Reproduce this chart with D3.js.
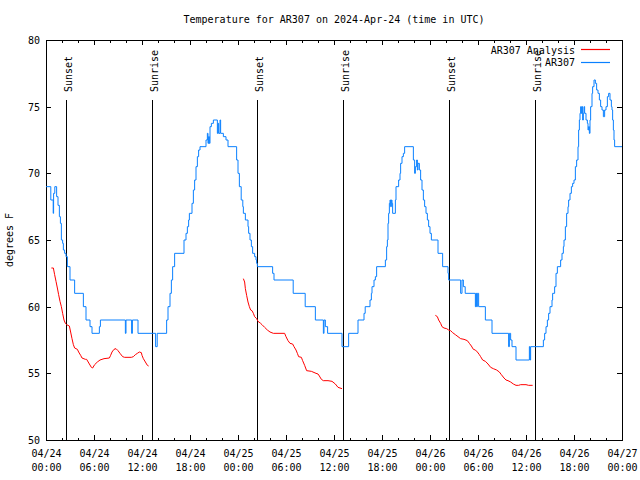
<!DOCTYPE html>
<html><head><meta charset="utf-8">
<script src="https://cdn.jsdelivr.net/npm/d3@7"></script>
<style>
body{margin:0;background:#fff;}
svg{display:block;}
text{font-family:"DejaVu Sans Mono",monospace;font-size:10px;fill:#000;}
</style></head>
<body><svg id="c" width="640" height="480"></svg>
<script>
const titleText = "Temperature for AR307 on 2024-Apr-24 (time in UTC)";
const yLabel = "degrees F";
const seriesNames = ["AR307 Analysis", "AR307"];
const seriesColors = ["#ff0000", "#0a80ff"];
const yTicks = [50, 55, 60, 65, 70, 75, 80];
const startUTC = Date.UTC(2024, 3, 24, 0, 0);
const endUTC = Date.UTC(2024, 3, 27, 0, 0);
// event lines (hours after 04/24 00:00 UTC)
const eventHours = [2.53, 13.28, 26.42, 37.17, 50.42, 61.17];
const eventLabels = ["Sunset", "Sunrise", "Sunset", "Sunrise", "Sunset", "Sunrise"];
// observed AR307 [hour, degF]
const ar307 = [[0,69],[0.6,68],[0.9,67],[0.95,68.5],[1.1,69],[1.33,68.25],[1.5,67.6],[1.67,66.75],[1.8,66.25],[1.92,65],[2.08,64.75],[2.17,64.25],[2.33,64],[2.5,63.75],[2.67,63],[3.0,62],[3.58,61],[4.67,60],[5.0,59],[5.5,58.5],[5.75,58],[6.67,58.5],[6.8,59],[9.92,58],[10.0,59],[10.7,58],[10.8,59],[11.5,58],[13.7,57],[13.9,58],[15.08,59],[15.25,60],[15.5,61],[15.67,62],[15.83,63],[16.08,64],[17.25,65],[17.5,65.5],[17.67,66],[17.83,66.5],[17.92,67],[18.25,67.75],[18.42,68.75],[18.58,69.5],[18.75,70.5],[18.92,71.25],[19.08,71.75],[19.25,72],[20.0,72.5],[20.17,73],[20.25,72.25],[20.33,72.75],[20.42,72.25],[20.5,73.5],[20.67,73.75],[20.92,74],[21.42,73],[21.5,73.75],[21.58,73],[21.75,74],[21.83,73],[22.17,72.75],[22.5,72.5],[22.75,72],[23.83,71],[24.0,70],[24.17,69],[24.4,68],[24.6,67.5],[24.67,67],[24.92,66.5],[25.25,66],[25.33,65.5],[25.5,65],[25.67,64.5],[25.83,64],[26.08,63.75],[26.25,63.5],[26.33,63.25],[26.42,63],[28.33,62.5],[28.5,62],[30.9,61],[32.4,60],[33.67,59],[34.67,58],[34.75,59],[34.92,58.5],[35.2,58],[37.0,57],[37.83,58],[39.0,59],[39.75,59.5],[39.9,60],[40.5,60.5],[40.67,61],[40.75,61.5],[41.0,62],[41.17,62.25],[41.33,63],[42.42,63.5],[42.58,64.5],[42.67,65],[42.75,66.25],[42.83,67],[42.92,67.75],[43.0,68],[43.08,67.5],[43.17,68],[43.25,67.75],[43.33,67],[43.67,68],[43.75,69],[44.08,69.5],[44.25,70],[44.33,70.75],[44.5,71.25],[44.67,71.5],[44.83,72],[45.92,71],[46.08,70],[46.17,70.5],[46.33,71],[46.42,70.25],[46.5,70.75],[46.67,70.25],[46.83,69.5],[47.0,68.75],[47.17,68],[47.33,67.5],[47.5,67],[47.67,66.5],[47.83,66],[48.0,65.5],[48.17,65],[49.0,64],[49.58,63],[50.25,62.5],[50.33,62],[51.83,61],[52.0,62],[52.17,61.5],[52.4,61],[53.67,60],[53.75,61],[53.83,60],[53.92,61],[54.08,60],[54.92,59],[55.75,58],[57.83,57],[57.92,58],[58.08,57.5],[58.25,57],[58.75,56],[60.42,57],[60.5,56],[60.58,57],[62.17,57.5],[62.33,58],[62.5,58.5],[62.67,59],[62.83,59.5],[63.0,60],[63.25,60.5],[63.33,61],[63.58,61.5],[63.75,62.5],[63.92,63],[64.33,63.5],[64.5,64],[64.67,64.5],[64.75,65],[64.92,66],[65.08,67],[65.25,67.5],[65.33,68],[65.5,68.5],[65.67,69],[65.83,69.25],[66.0,69.5],[66.17,70.5],[66.33,71],[66.5,72],[66.58,73.25],[66.67,74],[66.75,74.5],[66.83,75],[66.92,74.5],[67.0,75],[67.08,74],[67.17,74.5],[67.25,75],[67.33,74.5],[67.5,74],[67.67,73.75],[67.75,73.25],[67.83,73.5],[67.92,73],[68.0,74],[68.08,75],[68.25,76],[68.33,76.5],[68.5,77],[68.67,76.75],[68.83,76.25],[69.0,76],[69.17,75.5],[69.33,75],[69.5,74.75],[69.67,74.25],[69.83,74.75],[70.0,75],[70.17,75.75],[70.33,76],[70.5,75.5],[70.67,75],[70.75,74.75],[70.83,74],[70.92,73.25],[71.0,72.5],[71.08,72],[72,72]];
// analysis segments [hour, degF]
const analysis1 = [[0.67,62.9],[0.92,62.9],[1.08,62.4],[1.25,61.9],[1.42,61.4],[1.58,60.9],[1.75,60.4],[1.92,60],[2.08,59.5],[2.25,59],[2.42,58.75],[2.58,58.65],[2.92,58.55],[3.08,58.1],[3.25,57.6],[3.42,57.15],[3.58,56.9],[3.92,56.8],[4.08,56.6],[4.33,56.35],[4.5,56.15],[4.92,56.05],[5.08,56.05],[5.42,55.7],[5.67,55.45],[5.83,55.4],[6.08,55.65],[6.42,55.85],[6.75,56],[7.0,56.05],[7.25,56.1],[7.92,56.15],[8.08,56.35],[8.25,56.6],[8.5,56.8],[8.75,56.85],[9.0,56.7],[9.25,56.5],[9.58,56.25],[9.83,56.2],[10.67,56.2],[10.92,56.25],[11.17,56.4],[11.42,56.5],[11.67,56.6],[11.92,56.55],[12.0,56.35],[12.17,56.1],[12.42,55.85],[12.67,55.6],[12.83,55.55]];
const analysis2 = [[24.67,62.1],[24.83,61.85],[24.92,61.35],[25.08,60.85],[25.25,60.35],[25.42,60],[25.58,59.75],[25.75,59.7],[25.92,59.5],[26.08,59.25],[26.33,59.1],[26.5,58.9],[26.83,58.75],[27.0,58.65],[27.33,58.45],[27.67,58.25],[28.0,58.1],[28.42,58],[29.83,58],[30.0,57.75],[30.25,57.45],[30.5,57.25],[30.83,57.2],[31.0,57.0],[31.25,56.75],[31.42,56.5],[31.58,56.25],[31.92,56.2],[32.08,55.95],[32.33,55.6],[32.58,55.2],[33.17,55.15],[33.75,55],[34.0,54.95],[34.17,54.8],[34.42,54.55],[34.67,54.45],[35.25,54.45],[35.75,54.4],[36.17,54.2],[36.5,53.95],[37.0,53.85]];
const analysis3 = [[48.67,59.35],[48.92,59.25],[49.08,59],[49.33,58.75],[49.5,58.5],[49.75,58.4],[50.08,58.35],[50.33,58.25],[50.58,58.2],[50.83,58.05],[51.17,57.9],[51.5,57.75],[51.83,57.6],[52.25,57.55],[52.67,57.45],[52.92,57.25],[53.17,57.05],[53.42,56.8],[53.67,56.75],[53.92,56.6],[54.17,56.4],[54.33,56.25],[54.58,56.0],[54.92,55.9],[55.25,55.7],[55.58,55.45],[55.92,55.35],[56.33,55.25],[56.67,55.1],[56.92,54.9],[57.25,54.65],[57.5,54.5],[57.75,54.45],[58.08,54.35],[58.42,54.2],[58.75,54.1],[59.08,54.1],[59.33,54.15],[60.0,54.15],[60.33,54.1],[60.83,54.1]];

const L = 46, R = 622, T = 40, B = 440;
const svg = d3.select("#c");
const hr = h => new Date(startUTC + h * 3600e3);
const x = d3.scaleUtc().domain([new Date(startUTC), new Date(endUTC)]).range([L, R]);
const y = d3.scaleLinear().domain([50, 80]).range([B, T]);

const major = d3.utcHour.every(6).range(new Date(startUTC), new Date(endUTC + 1));
const minor = d3.utcHour.every(2).range(new Date(startUTC), new Date(endUTC + 1));

function styleAxis(g) {
  g.select(".domain").remove();
  g.selectAll("line").attr("stroke", "#000").attr("shape-rendering", "crispEdges");
}
// minor ticks
svg.append("g").attr("transform", `translate(0,${B})`)
  .call(d3.axisBottom(x).tickValues(minor).tickSize(-2.5).tickFormat("")).call(styleAxis);
svg.append("g").attr("transform", `translate(0,${T})`)
  .call(d3.axisTop(x).tickValues(minor).tickSize(-2.5).tickFormat("")).call(styleAxis);
// major x ticks
const fmtD = d3.utcFormat("%m/%d"), fmtT = d3.utcFormat("%H:%M");
const xb = svg.append("g").attr("transform", `translate(0,${B})`)
  .call(d3.axisBottom(x).tickValues(major).tickSize(-5).tickPadding(0).tickFormat("")).call(styleAxis);
xb.selectAll(".tick").each(function(d) {
  const t = d3.select(this).append("text").attr("text-anchor", "middle").attr("fill", "#000");
  t.append("tspan").attr("x", 0).attr("y", 17).text(fmtD(d));
  t.append("tspan").attr("x", 0).attr("y", 31).text(fmtT(d));
});
svg.append("g").attr("transform", `translate(0,${T})`)
  .call(d3.axisTop(x).tickValues(major).tickSize(-5).tickFormat("")).call(styleAxis);
// y ticks
const yl = svg.append("g").attr("transform", `translate(${L},0)`)
  .call(d3.axisLeft(y).tickValues(yTicks).tickSize(-5).tickPadding(6).tickFormat(d3.format("d"))).call(styleAxis);
yl.selectAll("text").attr("fill", "#000").attr("dy", "0.35em").style("font-family", "DejaVu Sans Mono").style("font-size", "10px");
svg.append("g").attr("transform", `translate(${R},0)`)
  .call(d3.axisRight(y).tickValues(yTicks).tickSize(-5).tickFormat("")).call(styleAxis);

// border
svg.append("rect").attr("x", L + 0.5).attr("y", T + 0.5).attr("width", R - L).attr("height", B - T)
  .attr("fill", "none").attr("stroke", "#000").attr("shape-rendering", "crispEdges");

// event lines
eventHours.forEach((h, i) => {
  const xp = Math.round(x(hr(h))) + 0.5;
  svg.append("line").attr("x1", xp).attr("x2", xp).attr("y1", 100).attr("y2", B)
    .attr("stroke", "#000").attr("shape-rendering", "crispEdges");
  svg.append("text").attr("transform", `translate(${xp + 5},92) rotate(-90)`)
    .attr("text-anchor", "start").text(eventLabels[i]);
});

// analysis (red)
const lineLin = d3.line().x(d => x(hr(d[0]))).y(d => y(d[1]));
[analysis1, analysis2, analysis3].forEach(seg => {
  svg.append("path").attr("d", lineLin(seg)).attr("fill", "none")
    .attr("stroke", seriesColors[0]).attr("stroke-width", 1);
});
// observed (blue)
const lineStep = d3.line().x(d => x(hr(d[0]))).y(d => y(d[1])).curve(d3.curveStepAfter);
svg.append("path").attr("d", lineStep(ar307)).attr("fill", "none")
  .attr("stroke", seriesColors[1]).attr("stroke-width", 1);

// title & labels
svg.append("text").attr("x", 334).attr("y", 23).attr("text-anchor", "middle").text(titleText);
svg.append("text").attr("transform", "translate(13,240) rotate(-90)").attr("text-anchor", "middle").text(yLabel);

// legend
seriesNames.forEach((n, i) => {
  const yy = 50 + i * 12.5;
  svg.append("text").attr("x", 575).attr("y", yy + 3.5).attr("text-anchor", "end").text(n);
  svg.append("line").attr("x1", 581).attr("x2", 610).attr("y1", Math.round(yy) - 0.5).attr("y2", Math.round(yy) - 0.5)
    .attr("stroke", seriesColors[i]).attr("stroke-width", 1.2);
});
</script></body></html>
